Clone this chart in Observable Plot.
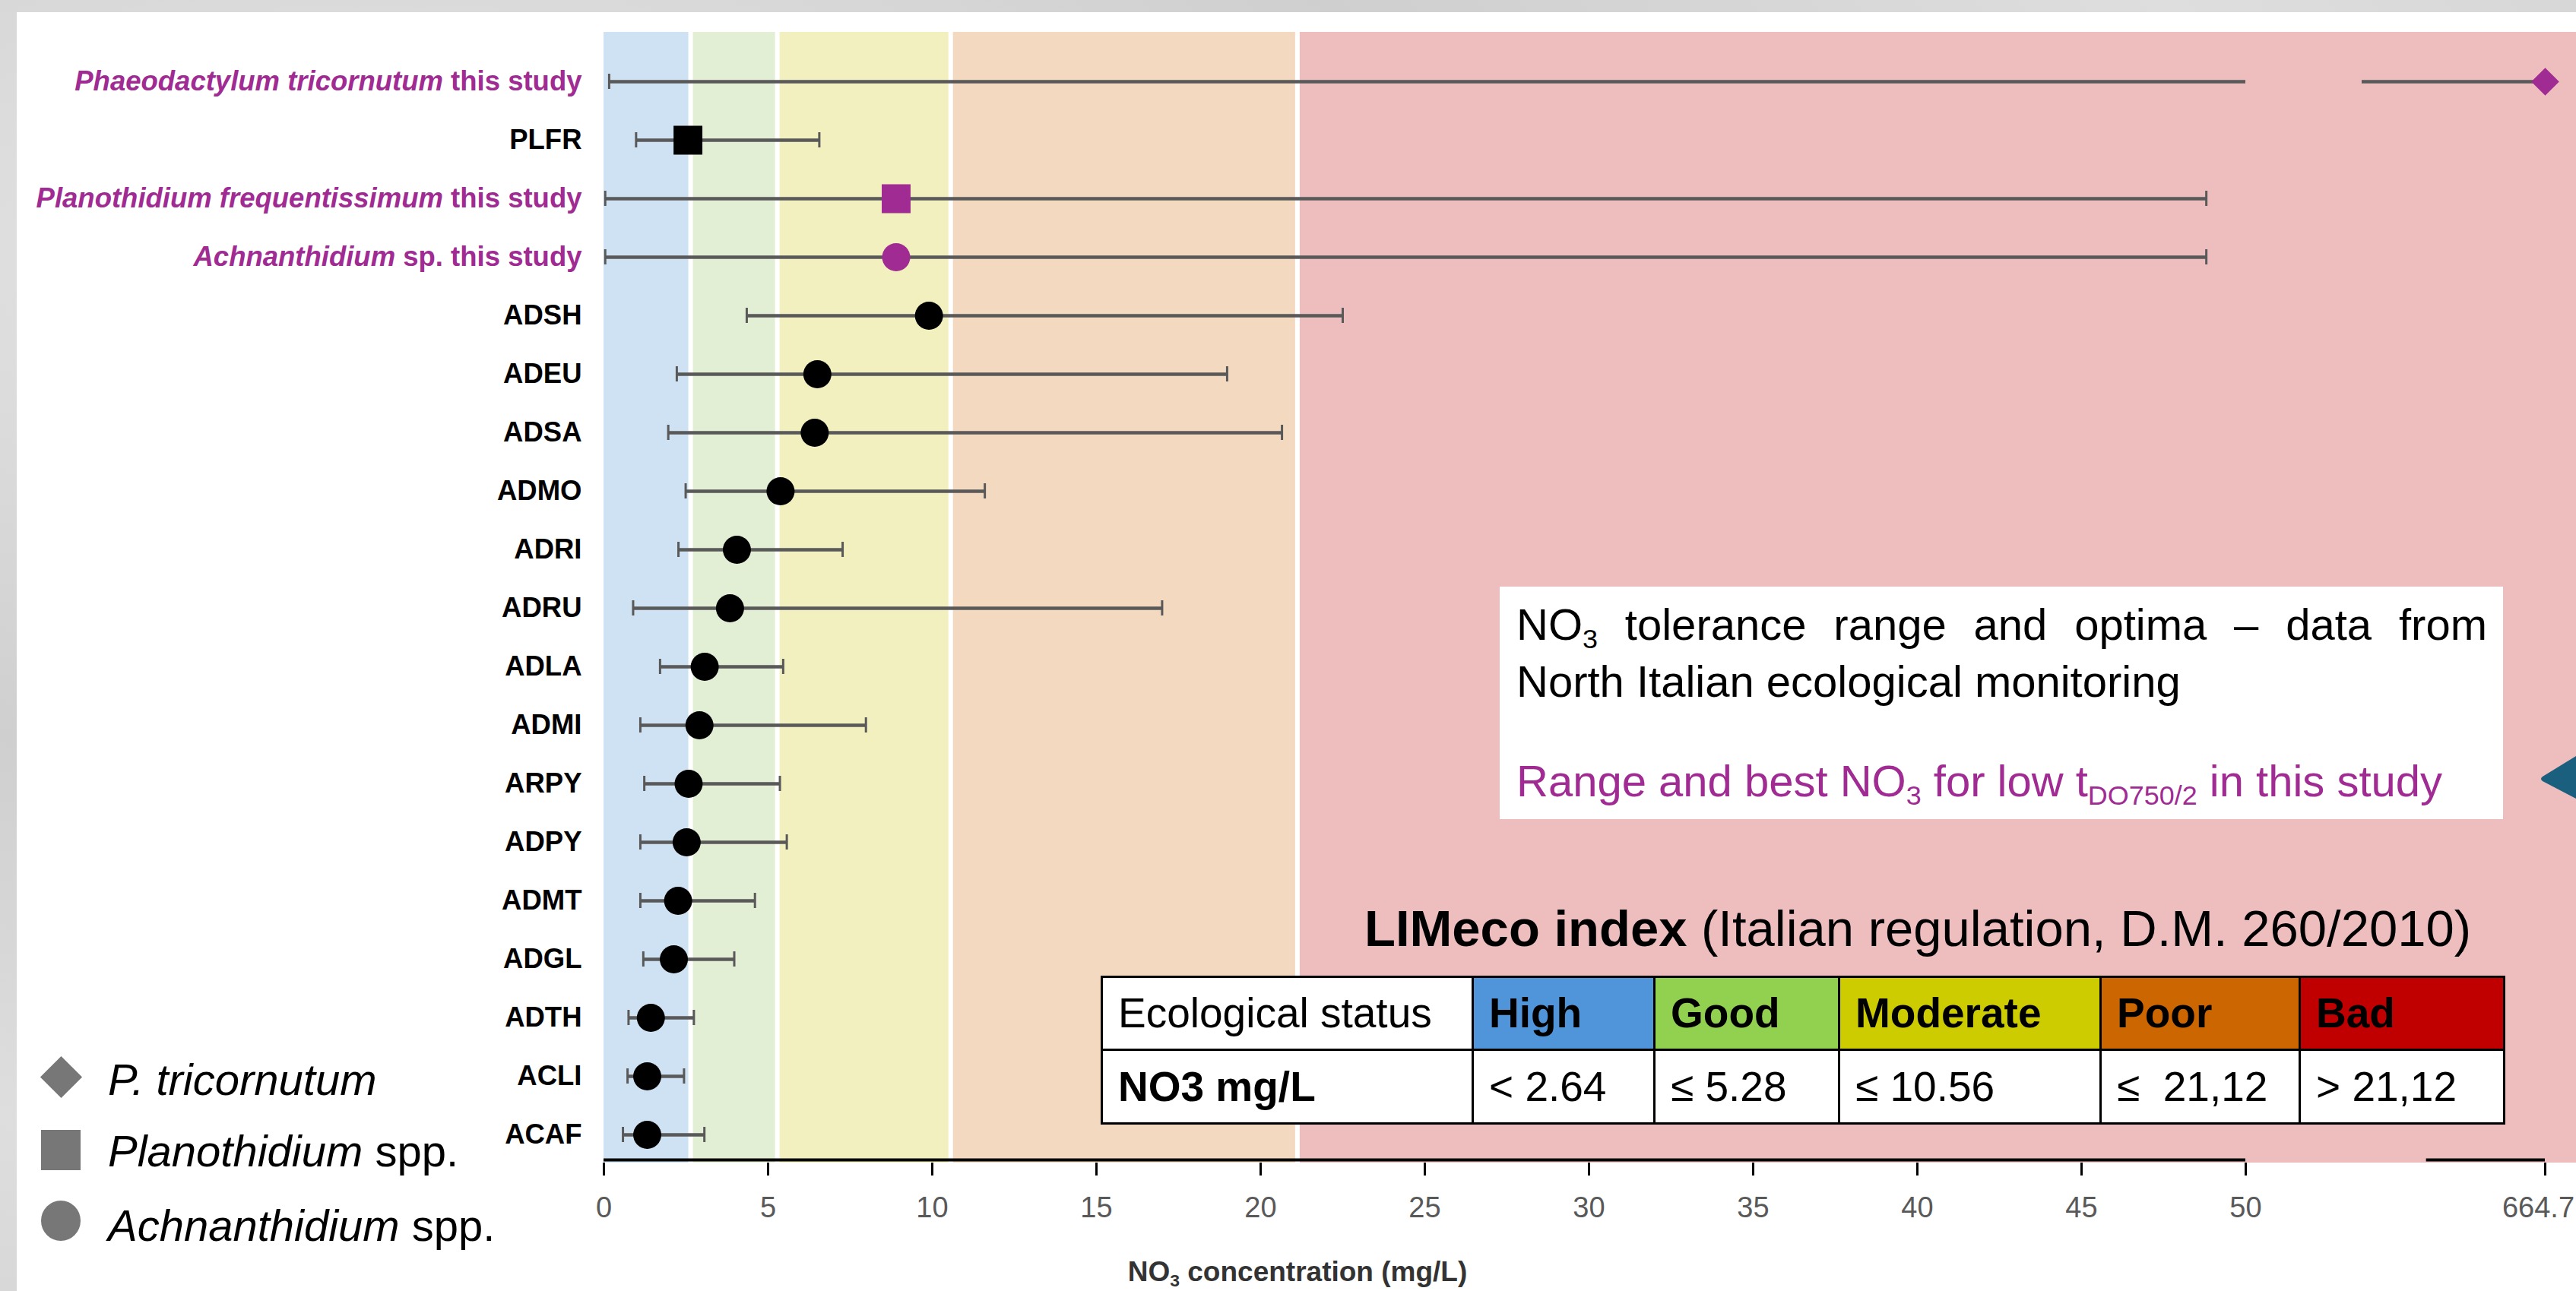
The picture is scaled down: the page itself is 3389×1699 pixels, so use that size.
<!DOCTYPE html>
<html>
<head>
<meta charset="utf-8">
<script src="https://cdn.jsdelivr.net/npm/d3@7"></script>
<script src="https://cdn.jsdelivr.net/npm/@observablehq/plot@0.6"></script>
<style>
html, body { margin: 0; padding: 0; }
body { width: 3389px; height: 1699px; overflow: hidden; font-family: "Liberation Sans", Arial, sans-serif; }
#fig { position: relative; width: 3389px; height: 1699px;
  background: radial-gradient(ellipse at 15% 20%, #e6e6e6 0%, #cfcfcf 35%, #dedede 60%, #c9c9c9 100%); }
#panel { position: absolute; left: 22px; top: 16px; right: 0; bottom: 0; background: #fff; }
#chart { position: absolute; left: 0; top: 0; }
.abs { position: absolute; white-space: nowrap; line-height: 1; }
.sub { font-size: 0.62em; position: relative; top: 0.3em; }
#note { position: absolute; left: 1973px; top: 772px; width: 1320px; height: 306px; background: #fff; }
#lim { position: absolute; left: 1448px; top: 1284px; border-collapse: collapse; table-layout: fixed; width: 1845px; font-size: 55px; }
#lim td { border: 3px solid #000; padding: 0 0 0 20px; line-height: 1; white-space: nowrap; vertical-align: middle; color: #000; }
#lim td.b { font-weight: bold; }
.leg { position: absolute; background: #777; }
</style>
</head>
<body>
<div id="fig">
  <div id="panel"></div>
  <div id="chart"></div>
</div>
<script>
// ---------------- data ----------------
const taxa = [
  "Phaeodactylum tricornutum this study", "PLFR",
  "Planothidium frequentissimum this study", "Achnanthidium sp. this study",
  "ADSH", "ADEU", "ADSA", "ADMO", "ADRI", "ADRU", "ADLA", "ADMI",
  "ARPY", "ADPY", "ADMT", "ADGL", "ADTH", "ACLI", "ACAF"
];
const italicPart = [
  "Phaeodactylum tricornutum", "", "Planothidium frequentissimum", "Achnanthidium",
  "", "", "", "", "", "", "", "", "", "", "", "", "", "", ""
];
const genus = [
  "Phaeodactylum", "Planothidium", "Planothidium", "Achnanthidium",
  "Achnanthidium", "Achnanthidium", "Achnanthidium", "Achnanthidium", "Achnanthidium",
  "Achnanthidium", "Achnanthidium", "Achnanthidium", "Achnanthidium", "Achnanthidium",
  "Achnanthidium", "Achnanthidium", "Achnanthidium", "Achnanthidium", "Achnanthidium"
];
const source = [
  "this study", "monitoring", "this study", "this study",
  "monitoring", "monitoring", "monitoring", "monitoring", "monitoring", "monitoring",
  "monitoring", "monitoring", "monitoring", "monitoring", "monitoring", "monitoring",
  "monitoring", "monitoring", "monitoring"
];
// NO3 optimum (mg/L)
const optimum   = [664.71, 2.56, 8.9, 8.9, 9.9, 6.5, 6.42, 5.38, 4.05, 3.84, 3.07, 2.91, 2.58, 2.52, 2.26, 2.13, 1.43, 1.32, 1.32];
// tolerance range (mg/L)
const rangeLow  = [0.16, 0.98, 0.04, 0.04, 4.35, 2.22, 1.96, 2.49, 2.27, 0.89, 1.71, 1.11, 1.23, 1.11, 1.11, 1.2, 0.75, 0.72, 0.58];
const rangeHigh = [664.71, 6.56, 48.8, 48.8, 22.5, 18.98, 20.65, 11.6, 7.27, 17.0, 5.46, 7.98, 5.36, 5.57, 4.6, 3.97, 2.74, 2.44, 3.06];

// LIMeco classes
const statusClasses = ["High", "Good", "Moderate", "Poor", "Bad"];
const statusLimits  = [0, 2.64, 5.28, 10.56, 21.12, 710];
const bandColors    = ["#cfe2f3", "#e2efd5", "#f2f0be", "#f2d9c0", "#eebebf"];
const tableColors   = ["#5094da", "#92d050", "#cccc00", "#cc6600", "#c00000"];
const tableValues   = ["< 2.64", "\u2264 5.28", "\u2264 10.56", "\u2264\u00a0 21,12", "> 21,12"];

// broken x axis: 0–50, then a jump to 664.71
const xDomain = [0, 50, 400, 664.71];
const xRange  = [794, 2954, 3107, 3348];
const xTicks  = [0, 5, 10, 15, 20, 25, 30, 35, 40, 45, 50];
const xTickFar = [664.71];
const xTickFarLabel = "664.7";
const axisPieces = [[0, 50], [493, 664.71]];

// ---------------- styling ----------------
const PURPLE = "#a02b93";
const FONT = "'Liberation Sans', Arial, sans-serif";
const symbolOf = {Phaeodactylum: "diamond2", Planothidium: "square", Achnanthidium: "circle"};
const radiusOf = {Phaeodactylum: 16.5, Planothidium: 21.4, Achnanthidium: 18.5};

const rows = taxa.map((t, i) => ({
  taxon: t, genus: genus[i], source: source[i], opt: optimum[i], lo: rangeLow[i], hi: rangeHigh[i]
}));
const bands = statusClasses.map((c, i) => ({cls: c, lo: statusLimits[i], hi: statusLimits[i + 1], color: bandColors[i]}));

const segs = [], caps = [];
for (const r of rows) {
  if (r.hi > xDomain[1]) {
    segs.push({taxon: r.taxon, a: r.lo, b: xDomain[1]});
    segs.push({taxon: r.taxon, a: xDomain[2], b: r.hi});
    caps.push({taxon: r.taxon, v: r.lo});
  } else {
    segs.push({taxon: r.taxon, a: r.lo, b: r.hi});
    caps.push({taxon: r.taxon, v: r.lo}, {taxon: r.taxon, v: r.hi});
  }
}

const dotMarks = [];
for (const g of ["Phaeodactylum", "Planothidium", "Achnanthidium"]) {
  for (const s of ["this study", "monitoring"]) {
    const d = rows.filter(r => r.genus === g && r.source === s);
    if (!d.length) continue;
    dotMarks.push(Plot.dot(d, {x: "opt", y: "taxon", symbol: symbolOf[g], r: radiusOf[g],
      fill: s === "this study" ? PURPLE : "#000"}));
  }
}

const last = taxa[taxa.length - 1];

const chart = Plot.plot({
  width: 3389, height: 1699,
  marginLeft: 794, marginRight: 41, marginTop: 42, marginBottom: 169,
  style: {background: "transparent", fontFamily: FONT},
  x: {type: "linear", domain: xDomain, range: xRange},
  y: {type: "point", domain: taxa, range: [99, 1500], padding: 0},
  marks: [
    Plot.rect(bands, {x1: "lo", x2: "hi", fill: "color"}),
    Plot.ruleX(statusLimits.slice(1, 5), {stroke: "#fff", strokeWidth: 6}),
    Plot.ruleY(segs, {x1: "a", x2: "b", y: "taxon", stroke: "#595959", strokeWidth: 4.5}),
    Plot.ruleX(caps, {x: "v", y1: "taxon", y2: "taxon", insetTop: -10, insetBottom: -10, stroke: "#595959", strokeWidth: 3}),
    ...dotMarks,
    Plot.ruleY(axisPieces, {x1: d => d[0], x2: d => d[1], y: () => last, dy: 33, stroke: "#000", strokeWidth: 4}),
    Plot.axisX({ticks: xTicks.concat(xTickFar), tickSize: 17, tickFormat: () => "", label: null, stroke: "#000", strokeWidth: 3}),
    Plot.axisX({ticks: xTicks, tickSize: 0, tickPadding: 45, fontSize: 38, fill: "#595959", label: null, tickFormat: d => String(d)}),
    Plot.axisX({ticks: xTickFar, tickSize: 0, tickPadding: 45, fontSize: 38, fill: "#595959", label: null, dx: -9, tickFormat: () => xTickFarLabel}),
    Plot.axisY({tickSize: 0, tickPadding: 29, fontSize: 36.5, fontWeight: "bold", fill: "#000", label: null})
  ]
});
document.getElementById("chart").appendChild(chart);

// style the "this study" labels: italic species name + upright remainder, purple
const ylab = chart.querySelector('[aria-label="y-axis tick label"]');
if (ylab) {
  ylab.setAttribute("font-weight", "bold");
  ylab.querySelectorAll("text").forEach(el => {
    const i = taxa.indexOf(el.textContent);
    if (i < 0 || source[i] !== "this study") return;
    const it = italicPart[i], rest = taxa[i].slice(it.length);
    el.textContent = "";
    const ns = "http://www.w3.org/2000/svg";
    const t1 = document.createElementNS(ns, "tspan");
    t1.setAttribute("font-style", "italic"); t1.textContent = it;
    const t2 = document.createElementNS(ns, "tspan");
    t2.textContent = rest;
    el.appendChild(t1); el.appendChild(t2);
    el.setAttribute("fill", PURPLE);
  });
}

// ---------------- annotations ----------------
const fig = document.getElementById("fig");
function add(html) { fig.insertAdjacentHTML("beforeend", html); }

// x axis title
add(`<div class="abs" style="left:1707px;top:1655px;transform:translateX(-50%);font-size:37px;font-weight:bold;color:#333">NO<span class="sub">3</span> concentration (mg/L)</div>`);

// note box
add(`<div id="note">
  <div class="abs" style="left:22px;top:21px;width:1277px;font-size:58px;white-space:normal;text-align:justify;text-align-last:justify;">NO<span class="sub">3</span> tolerance range and optima – data from</div>
  <div class="abs" style="left:22px;top:96px;font-size:58px;">North Italian ecological monitoring</div>
  <div class="abs" style="left:22px;top:227px;font-size:58px;color:${PURPLE}">Range and best NO<span class="sub">3</span> for low t<span class="sub">DO750/2</span> in this study</div>
</div>`);

// LIMeco title
add(`<div class="abs" style="left:1795px;top:1188px;font-size:67px;color:#000"><b>LIMeco index</b> (Italian regulation, D.M. 260/2010)</div>`);

// LIMeco table
const colW = [488, 239, 243, 344, 262, 269];
add(`<table id="lim"><colgroup>${colW.map(w => `<col style="width:${w}px">`).join("")}</colgroup>
<tr style="height:96px"><td style="background:#fff">Ecological status</td>${statusClasses.map((c, i) => `<td class="b" style="background:${tableColors[i]}">${c}</td>`).join("")}</tr>
<tr style="height:97px"><td class="b" style="background:#fff">NO3 mg/L</td>${tableValues.map(v => `<td style="background:#fff">${v}</td>`).join("")}</tr>
</table>`);

// legend
add(`<div class="leg" style="left:61px;top:1398px;width:39px;height:39px;transform:rotate(45deg)"></div>`);
add(`<div class="leg" style="left:54px;top:1487px;width:52px;height:53px"></div>`);
add(`<div class="leg" style="left:54px;top:1580px;width:52px;height:53px;border-radius:50%"></div>`);
add(`<div class="abs" style="left:142px;top:1392px;font-size:58px;font-style:italic">P. tricornutum</div>`);
add(`<div class="abs" style="left:142px;top:1486px;font-size:58px;"><i>Planothidium</i> spp.</div>`);
add(`<div class="abs" style="left:142px;top:1584px;font-size:58px;"><i>Achnanthidium</i> spp.</div>`);

// teal arrow at right edge
add(`<svg style="position:absolute;left:3330px;top:985px" width="59" height="80"><path d="M15,37 Q11,40 15,43 L59,66 L59,10 Z" fill="#1b5f7f"/></svg>`);
</script>
</body>
</html>
